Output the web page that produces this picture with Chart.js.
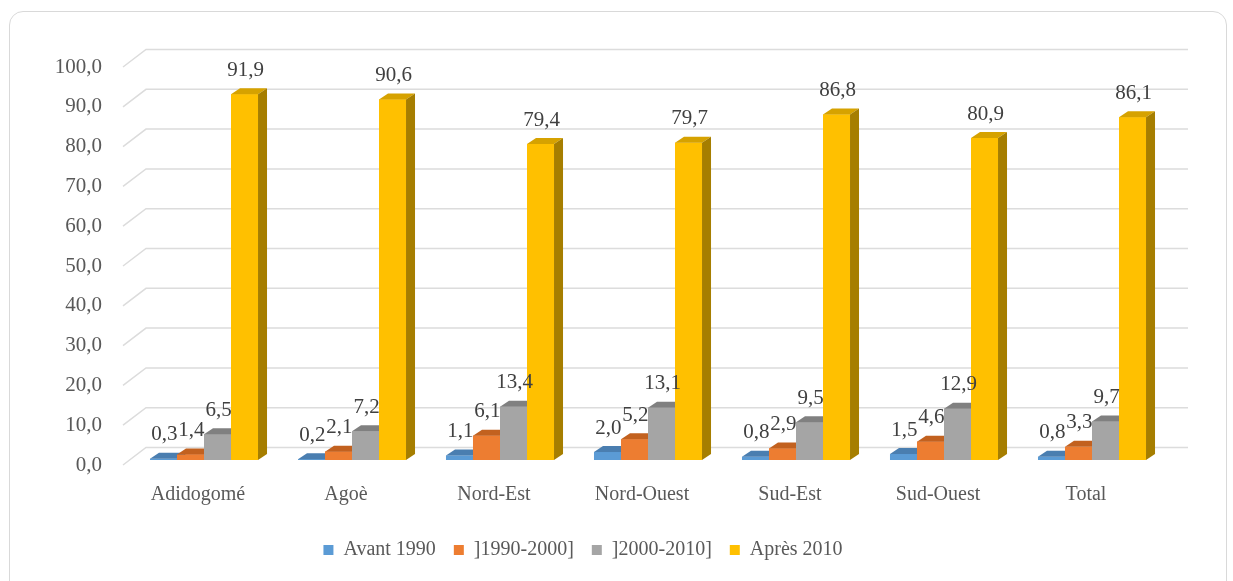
<!DOCTYPE html>
<html lang="fr">
<head>
    <meta charset="UTF-8">
    <title>Période d'installation</title>
    <script src="https://cdn.jsdelivr.net/npm/chart.js"></script>
    <style>
        body { margin: 0; background: #fff; }
        #frame { position: absolute; left: 9px; top: 11px; width: 1216px; height: 600px;
                 border: 1px solid #d9d9d9; border-radius: 14px; }
        canvas { position: absolute; left: 0; top: 0; }
    </style>
</head>
<body>
    <div id="frame"></div>
    <canvas id="chart" width="1233" height="581"></canvas>

    <script>
        // data
        const zones = ['Adidogomé', 'Agoè', 'Nord-Est', 'Nord-Ouest', 'Sud-Est', 'Sud-Ouest', 'Total'];
        const avant1990 = [0.3, 0.2, 1.1, 2.0, 0.8, 1.5, 0.8];
        const p1990_2000 = [1.4, 2.1, 6.1, 5.2, 2.9, 4.6, 3.3];
        const p2000_2010 = [6.5, 7.2, 13.4, 13.1, 9.5, 12.9, 9.7];
        const apres2010 = [91.9, 90.6, 79.4, 79.7, 86.8, 80.9, 86.1];
        const seriesNames = ['Avant 1990', ']1990-2000]', ']2000-2010]', 'Après 2010'];
        const yTicks = [0, 10, 20, 30, 40, 50, 60, 70, 80, 90, 100];

        const frontColors = ['#5B9BD5', '#ED7D31', '#A5A5A5', '#FFC000'];
        const topColors = ['#4A7EB0', '#C2611F', '#808080', '#D6A200'];
        const sideColors = ['#37618A', '#A4521B', '#6E6E6E', '#A67E00'];

        const fontFamily = "'Liberation Serif', 'DejaVu Serif', serif";
        const fmt = v => v.toFixed(1).replace('.', ',');

        // 3D look: back wall grid, bar tops and sides
        const depth = { dx: 9, dy: -6 };
        const wall = { dx: 23, dy: -12.5 };

        const gridPlugin = {
            id: 'wallGrid',
            beforeDatasetsDraw(chart) {
                const { ctx, chartArea, scales } = chart;
                ctx.save();
                ctx.strokeStyle = '#dcdcdc';
                ctx.lineWidth = 1.5;
                yTicks.forEach(v => {
                    const y = scales.y.getPixelForValue(v);
                    ctx.beginPath();
                    ctx.moveTo(chartArea.left - 7, y + 5);
                    ctx.lineTo(chartArea.left + 16, y + wall.dy);
                    ctx.lineTo(chartArea.right + 22, y + wall.dy);
                    ctx.stroke();
                });
                ctx.restore();
            }
        };

        const barsPlugin = {
            id: 'bars3d',
            afterDatasetsDraw(chart) {
                const { ctx } = chart;
                const metas = chart.data.datasets.map((d, i) => chart.getDatasetMeta(i));
                ctx.save();
                zones.forEach((z, j) => {
                    metas.forEach((meta, i) => {
                        const bar = meta.data[j];
                        const { x, y, base, width } = bar.getProps(['x', 'y', 'base', 'width'], true);
                        const l = x - width / 2, r = x + width / 2;
                        ctx.fillStyle = frontColors[i];
                        ctx.fillRect(l, y, width, base - y);
                        ctx.fillStyle = topColors[i];
                        ctx.beginPath();
                        ctx.moveTo(l, y);
                        ctx.lineTo(l + depth.dx, y + depth.dy);
                        ctx.lineTo(r + depth.dx, y + depth.dy);
                        ctx.lineTo(r, y);
                        ctx.closePath();
                        ctx.fill();
                        ctx.fillStyle = sideColors[i];
                        ctx.beginPath();
                        ctx.moveTo(r, y);
                        ctx.lineTo(r + depth.dx, y + depth.dy);
                        ctx.lineTo(r + depth.dx, base + depth.dy);
                        ctx.lineTo(r, base);
                        ctx.closePath();
                        ctx.fill();
                    });
                });
                // value labels
                ctx.fillStyle = '#404040';
                ctx.font = '21px ' + fontFamily;
                ctx.textAlign = 'center';
                ctx.textBaseline = 'middle';
                metas.forEach((meta, i) => {
                    meta.data.forEach((bar, j) => {
                        const v = chart.data.datasets[i].data[j];
                        ctx.fillText(fmt(v), bar.x + 1, bar.y - 24);
                    });
                });
                ctx.restore();
            }
        };

        const data = [avant1990, p1990_2000, p2000_2010, apres2010];

        new Chart(document.getElementById('chart'), {
            type: 'bar',
            data: {
                labels: zones,
                datasets: data.map((d, i) => ({
                    label: seriesNames[i],
                    data: d,
                    backgroundColor: frontColors[i],
                    barPercentage: 1,
                    categoryPercentage: 0.73
                }))
            },
            options: {
                responsive: false,
                animation: false,
                devicePixelRatio: 1,
                layout: { padding: { top: 62, right: 67, bottom: 11, left: 0 } },
                scales: {
                    x: {
                        grid: { display: false, drawTicks: false },
                        border: { display: false },
                        ticks: { color: '#595959', font: { family: fontFamily, size: 20 }, padding: 23, labelOffset: -6 },
                        afterFit(s) { s.height = 62; }
                    },
                    y: {
                        min: 0,
                        max: 100,
                        afterBuildTicks(s) { s.ticks = yTicks.map(v => ({ value: v })); },
                        grid: { display: false, drawTicks: false },
                        border: { display: false },
                        ticks: {
                            color: '#595959',
                            font: { family: fontFamily, size: 21 },
                            padding: 28,
                            labelOffset: 5,
                            callback: v => fmt(v)
                        },
                        afterFit(s) { s.width = 130; }
                    }
                },
                plugins: {
                    legend: {
                        position: 'bottom',
                        labels: {
                            color: '#595959',
                            font: { family: fontFamily, size: 20 },
                            boxWidth: 10,
                            boxHeight: 10,
                            padding: 18
                        }
                    },
                    tooltip: { enabled: false }
                }
            },
            plugins: [gridPlugin, barsPlugin]
        });
    </script>
</body>
</html>
